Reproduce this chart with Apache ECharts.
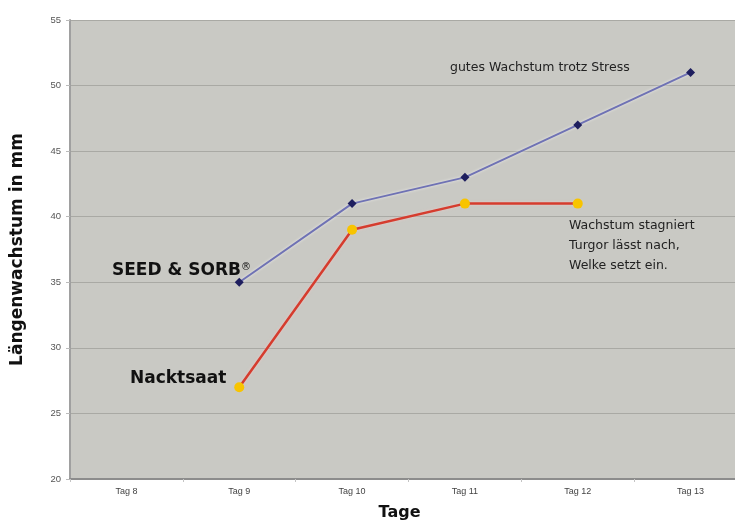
<!DOCTYPE html>
<html><head><meta charset="utf-8">
<script src="https://cdn.jsdelivr.net/npm/echarts@6/dist/echarts.min.js"></script>
<style>html,body{margin:0;padding:0;background:#fff}#c{width:735px;height:523px}</style>
</head><body><div id="c"></div>
<script>
const categories = ['Tag 8','Tag 9','Tag 10','Tag 11','Tag 12','Tag 13'];
const seedSorb = [null, 35, 41, 43, 47, 51];
const nacktsaat = [null, 27, 39, 41, 41, null];
const yTicks = {min: 20, max: 55, interval: 5};

const chart = echarts.init(document.getElementById('c'));
chart.setOption({
  animation: false,
  backgroundColor: '#ffffff',
  grid: {left: 70, top: 20, width: 677, height: 459, show: true, backgroundColor: '#c9c9c4', borderWidth: 0, outerBoundsMode: 'none', containLabel: false},
  xAxis: {
    type: 'category', data: categories, boundaryGap: true,
    axisLine: {lineStyle: {color: '#8c8c8c', width: 2}},
    axisTick: {show: true, lineStyle: {color: '#c4c4c4'}, length: 3},
    axisLabel: {color: '#444', fontSize: 9, fontFamily: 'Liberation Sans Narrow, Liberation Sans', margin: 8},
    name: 'Tage', nameLocation: 'middle', nameGap: 26,
    nameTextStyle: {fontSize: 16, fontWeight: 'bold', color: '#111', fontFamily: 'DejaVu Sans', padding: [0, 18, 0, 0]}
  },
  yAxis: {
    type: 'value', min: yTicks.min, max: yTicks.max, interval: yTicks.interval,
    axisLine: {show: true, lineStyle: {color: '#a0a0a0', width: 2}},
    axisTick: {show: true, length: 4, lineStyle: {color: '#bbb'}},
    axisLabel: {color: '#555', fontSize: 9.5, fontFamily: 'Liberation Sans Narrow, Liberation Sans', margin: 9},
    splitLine: {lineStyle: {color: '#a9a9a4', width: 1}},
    name: 'Längenwachstum in mm', nameLocation: 'middle', nameGap: 44, nameRotate: 90,
    nameTextStyle: {fontSize: 17, fontWeight: 'bold', color: '#111', fontFamily: 'DejaVu Sans'}
  },
  series: [
    {
      name: 'SEED & SORB®', type: 'line', data: seedSorb, connectNulls: false,
      symbol: 'diamond', symbolSize: 9,
      itemStyle: {color: '#1e1e5e'},
      lineStyle: {color: '#6f72b4', width: 2, shadowColor: 'rgba(255,255,255,0.7)', shadowBlur: 3}
    },
    {
      name: 'Nacktsaat', type: 'line', data: nacktsaat,
      symbol: 'circle', symbolSize: 10,
      itemStyle: {color: '#f8c400'},
      lineStyle: {color: '#d53c2e', width: 2.5, shadowColor: 'rgba(255,200,200,0.6)', shadowBlur: 3}
    }
  ],
  graphic: [
    {type: 'text', left: 112, top: 262, style: {text: 'SEED & SORB', font: 'bold 17px "DejaVu Sans"', fill: '#111'}},
    {type: 'text', left: 241, top: 262, style: {text: '®', font: '10px "DejaVu Sans"', fill: '#111'}},
    {type: 'text', left: 130, top: 370, style: {text: 'Nacktsaat', font: 'bold 17px "DejaVu Sans"', fill: '#111'}},
    {type: 'text', left: 450, top: 61, style: {text: 'gutes Wachstum trotz Stress', font: '12.5px "DejaVu Sans"', fill: '#222'}},
    {type: 'text', left: 569, top: 216, style: {text: 'Wachstum stagniert\nTurgor lässt nach,\nWelke setzt ein.', font: '12.5px "DejaVu Sans"', fill: '#222', lineHeight: 20}}
  ]
});
</script></body></html>
